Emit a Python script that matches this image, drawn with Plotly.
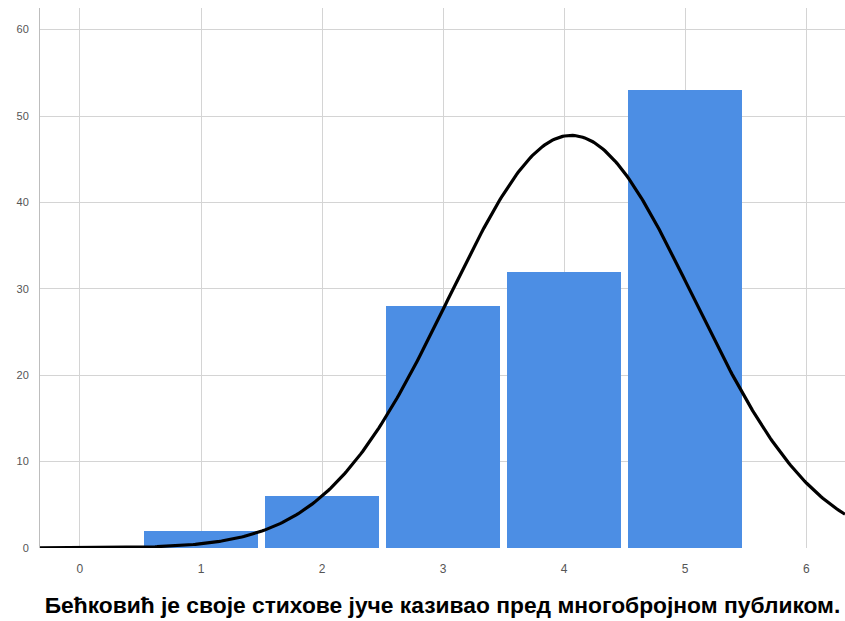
import numpy as np
import plotly.graph_objects as go

# Response scores and how many respondents gave each one
scores = [1, 2, 3, 4, 5]
counts = [2, 6, 28, 32, 53]
x_ticks = [0, 1, 2, 3, 4, 5, 6]
y_ticks = [0, 10, 20, 30, 40, 50, 60]
caption = "Бећковић је своје стихове јуче казивао пред многобројном публиком."

# Normal curve fitted to the distribution, scaled to counts (bin width 1)
s = np.array(scores, dtype=float)
c = np.array(counts, dtype=float)
n = c.sum()
mean = (s * c).sum() / n
sd = np.sqrt(((s - mean) ** 2 * c).sum() / (n - 1))
xr = [-0.33, 6.32]
xs = np.linspace(xr[0], xr[1], 400)
ys = n * 1.0 / (sd * np.sqrt(2 * np.pi)) * np.exp(-0.5 * ((xs - mean) / sd) ** 2)

fig = go.Figure()
fig.add_trace(go.Bar(
    x=scores, y=counts, width=0.945,
    marker=dict(color="#4c8ee4", line=dict(width=0)),
    showlegend=False,
))
fig.add_trace(go.Scatter(
    x=xs, y=ys, mode="lines",
    line=dict(color="black", width=3.2),
    showlegend=False, cliponaxis=False,
))

fig.update_layout(
    width=845, height=621,
    margin=dict(l=40, r=0, t=8, b=73),
    paper_bgcolor="white", plot_bgcolor="white",
    bargap=0,
    font=dict(family="Liberation Sans, Arial, sans-serif"),
    xaxis=dict(
        range=xr, tickvals=x_ticks, ticktext=[str(v) for v in x_ticks],
        showgrid=True, gridcolor="#d4d4d4", gridwidth=1,
        zeroline=False, showline=False, ticks="",
        ticklabelstandoff=12,
        tickfont=dict(size=12, color="#555555"),
        title=dict(text="<b>" + caption + "</b>", standoff=22,
                   font=dict(size=22.8, color="black")),
    ),
    yaxis=dict(
        range=[0, 62.5], tickvals=y_ticks, ticktext=[str(v) for v in y_ticks],
        showgrid=True, gridcolor="#d4d4d4", gridwidth=1,
        zeroline=False, showline=True, linecolor="#bdbdbd", linewidth=1,
        ticks="", ticklabelstandoff=8,
        tickfont=dict(size=11, color="#555555"),
    ),
)

fig.write_html("out.html")
